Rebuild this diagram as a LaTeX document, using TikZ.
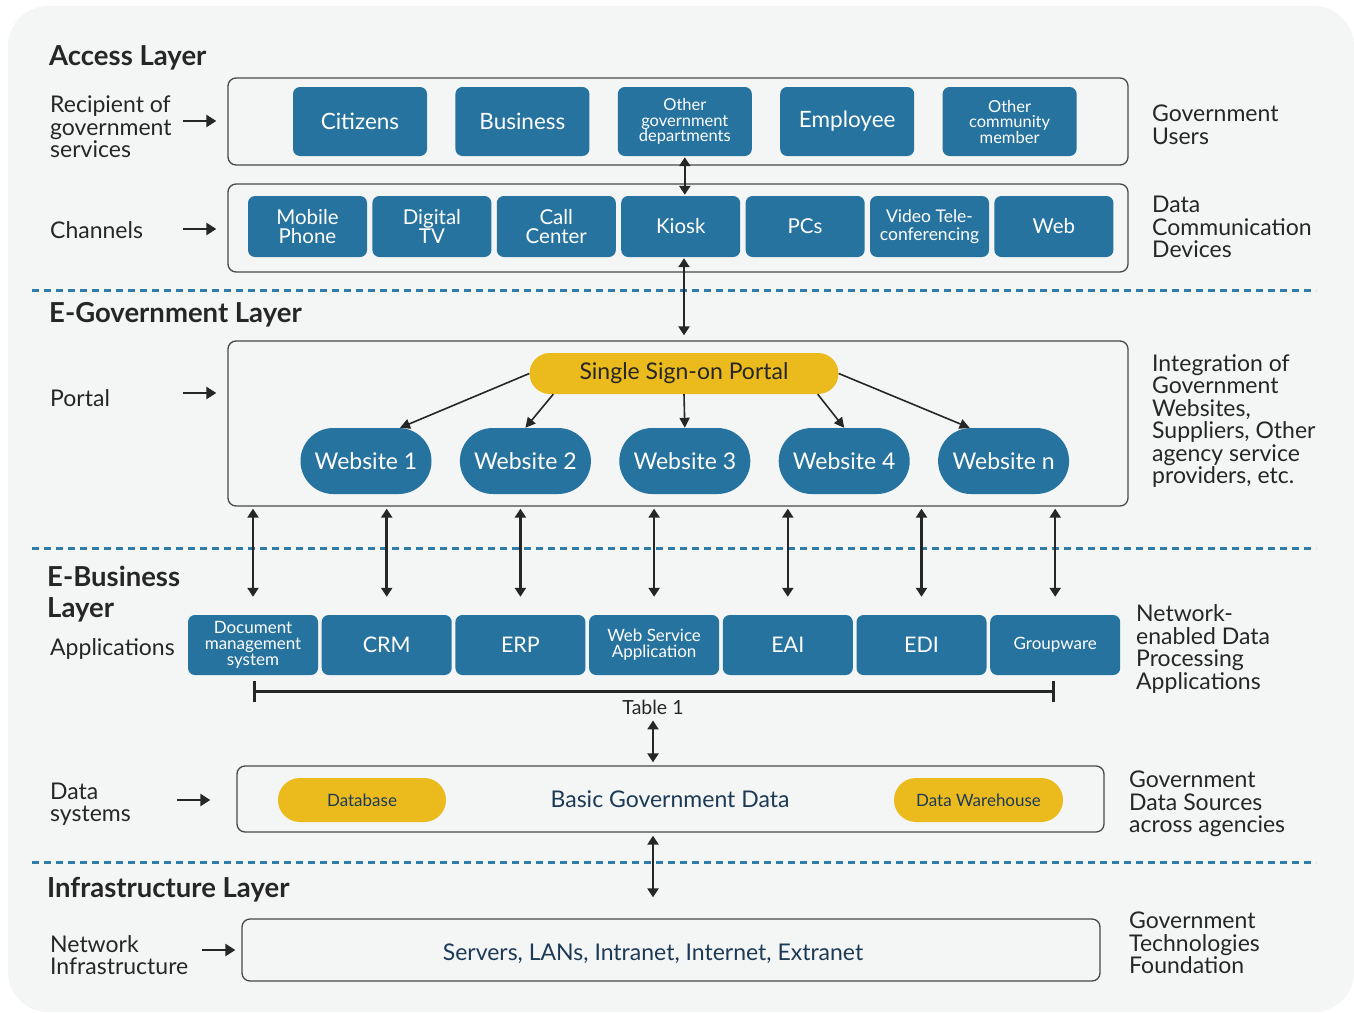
\documentclass[tikz,border=0pt]{standalone}
\usepackage{fontspec}
\setmainfont{Lato}
\usetikzlibrary{arrows.meta, positioning, calc}
\definecolor{appblue}{HTML}{26739F}
\definecolor{ssoyellow}{HTML}{EBBB1E}
\definecolor{dashblue}{HTML}{2F7CA9}
\definecolor{panelgray}{HTML}{F4F6F5}
\definecolor{inkdark}{HTML}{262626}
\definecolor{navytext}{HTML}{1C3A56}

\begin{document}
\begin{tikzpicture}[x=1pt, y=-1pt,
  every node/.style={font=\fontsize{23}{22.5}\selectfont, text=inkdark},
  layer/.style={draw=inkdark!85, line width=1.3pt, rounded corners=8pt, fill=panelgray, inner sep=0pt},
  userbox/.style={rectangle, rounded corners=7pt, fill=appblue, text=white, minimum width=134pt, minimum height=69pt, inner sep=0pt, align=center, font=\fontsize{22.5}{22.5}\selectfont},
  chanbox/.style={userbox, minimum width=119pt, minimum height=61pt, font=\fontsize{20.5}{19.5}\selectfont},
  website/.style={userbox, rounded corners=32.9pt, minimum width=131pt, minimum height=66pt, font=\fontsize{23}{23}\selectfont},
  appbox/.style={userbox, minimum width=130pt, minimum height=60pt, font=\fontsize{21.5}{21.5}\selectfont},
  small/.style={font=\fontsize{16.5}{15.5}\selectfont},
  smaller/.style={font=\fontsize{17}{16}\selectfont},
  pill/.style={rectangle, rounded corners=21.9pt, fill=ssoyellow, text=navytext, minimum height=44pt, inner sep=0pt, font=\fontsize{17}{17}\selectfont},
  title/.style={anchor=west, inner sep=0pt, align=left, font=\fontsize{27.5}{31}\selectfont\bfseries},
  sidelabel/.style={anchor=west, inner sep=0pt, align=left},
  arrow/.style={-{Triangle[length=10pt, width=12pt]}, line width=2.4pt, draw=inkdark},
  thinarrow/.style={-{Triangle[length=10pt, width=10pt]}, line width=1.6pt, draw=inkdark},
  dblarrow/.style={{Triangle[length=9pt, width=11pt]}-{Triangle[length=9pt, width=11pt]}, line width=2.5pt, draw=inkdark},
  bracket/.style={{Bar[width=21pt]}-{Bar[width=21pt]}, line width=2.8pt, draw=inkdark},
  sep/.style={dashblue, line width=3pt, dash pattern=on 7pt off 5pt}
]
  \useasboundingbox (0,0) rectangle (1354,1012);
  \fill[panelgray, rounded corners=40pt] (8,6) rectangle (1354,1012);

  % access layer
  \node[title] (acctitle) at (49,58) {Access Layer};
  \node[sidelabel] (recip) at (50,127) {Recipient of\\government\\services};
  \node[sidelabel] (gusers) at (1152,125) {Government\\Users};
  \node[layer, minimum width=900pt, minimum height=87pt] (access) at (678,121.5) {};
  \node[userbox] (citz) at (360,121.5) {Citizens};
  \node[userbox, right=28pt of citz] (bus) {Business};
  \node[userbox, small, right=28pt of bus] (othgov) {Other\\government\\departments};
  \node[userbox, right=28pt of othgov] (empl) {Employee};
  \node[userbox, small, right=28pt of empl] (othcom) {Other\\community\\member};

  \node[sidelabel] (chan) at (50,230) {Channels};
  \node[sidelabel] (devices) at (1152,227) {Data\\Communication\\Devices};
  \node[layer, minimum width=900pt, minimum height=88pt] (channel) at (678,228) {};
  \node[chanbox] (mobile) at (307.5,226.5) {Mobile\\Phone};
  \node[chanbox, right=5pt of mobile] (dtv) {Digital\\TV};
  \node[chanbox, right=5pt of dtv] (call) {Call\\Center};
  \node[chanbox, right=5pt of call] (kiosk) {Kiosk};
  \node[chanbox, right=5pt of kiosk] (pcs) {PCs};
  \node[chanbox, right=5pt of pcs, font=\fontsize{17.5}{17.5}\selectfont] (video) {Video Tele-\\conferencing};
  \node[chanbox, right=5pt of video] (web) {Web};

  % e-government layer
  \node[title] (egovtitle) at (49,315) {E-Government Layer};
  \node[sidelabel] (portlab) at (50,398) {Portal};
  \node[sidelabel] (integ) at (1152,421) {Integration of\\Government\\Websites,\\Suppliers, Other\\agency service\\providers, etc.};
  \node[layer, minimum width=900pt, minimum height=165pt] (portal) at (678,423.5) {};
  \node[pill, rounded corners=20.4pt, minimum width=309pt, minimum height=41pt, text=inkdark, font=\fontsize{23}{23}\selectfont] (sso) at (684,373.5) {Single Sign-on Portal};
  \node[website] (w1) at (366,461) {Website 1};
  \node[website, right=28pt of w1] (w2) {Website 2};
  \node[website, right=28pt of w2] (w3) {Website 3};
  \node[website, right=28pt of w3] (w4) {Website 4};
  \node[website, right=28pt of w4] (wn) {Website n};

  % e-business layer
  \node[title] (ebustitle) at (47,594) {E-Business\\Layer};
  \node[sidelabel] (applab) at (50,649) {Applications};
  \node[sidelabel] (netapps) at (1136,649) {Network-\\enabled Data\\Processing\\Applications};
  \node[appbox, smaller] (docms) at (253,645) {Document\\management\\system};
  \node[appbox, right=3.3pt of docms] (crm) {CRM};
  \node[appbox, right=3.3pt of crm] (erp) {ERP};
  \node[appbox, smaller, right=3.3pt of erp] (websvc) {Web Service\\Application};
  \node[appbox, right=3.3pt of websvc] (eai) {EAI};
  \node[appbox, right=3.3pt of eai] (edi) {EDI};
  \node[appbox, smaller, right=3.3pt of edi] (grpw) {Groupware};
  \node[font=\fontsize{19.5}{19.5}\selectfont, inner sep=0pt] (tbl) at (653,707) {Table 1};

  \node[sidelabel] (datalab) at (50,804) {Data\\systems};
  \node[sidelabel] (sources) at (1129,804) {Government\\Data Sources\\across agencies};
  \node[layer, minimum width=867pt, minimum height=66pt] (data) at (670.5,799) {};
  \node[pill, minimum width=168pt] (dbase) at (362,800) {Database};
  \node[text=navytext, font=\fontsize{23}{23}\selectfont] (basic) at (670,799) {Basic Government Data};
  \node[pill, minimum width=169pt] (dwh) at (978.5,800) {Data Warehouse};

  % infrastructure layer
  \node[title] (inftitle) at (47,890) {Infrastructure Layer};
  \node[sidelabel] (netlab) at (50,955) {Network\\Infrastructure};
  \node[sidelabel] (found) at (1129,943) {Government\\Technologies\\Foundation};
  \node[layer, minimum width=858pt, minimum height=62pt] (infra) at (671,950) {};
  \node[text=navytext, font=\fontsize{23}{23}\selectfont] (servers) at (653,954) {Servers, LANs, Intranet, Internet, Extranet};

  % separators
  \draw[sep] (32,290) -- (1316,290);
  \draw[sep] (32,548) -- (1316,548);
  \draw[sep] (32,862) -- (1316,862);

  % side arrows
  \coordinate (ra) at (183,121);
  \coordinate (ca) at (183,229);
  \coordinate (pa) at (183,393);
  \coordinate (da) at (177,800);
  \coordinate (na) at (202,950);
  \draw[arrow, shorten >=11pt] (ra) -- (access.west |- ra);
  \draw[arrow, shorten >=11pt] (ca) -- (channel.west |- ca);
  \draw[arrow, shorten >=11pt] (pa) -- (portal.west |- pa);
  \draw[arrow, shorten >=26pt] (da) -- (data.west |- da);
  \draw[arrow, shorten >=6pt] (na) -- (infra.west |- na);

  % connectors
  \draw[dblarrow, shorten <=1pt, shorten >=1pt] (othgov.south) -- (othgov.south |- kiosk.north);
  \draw[dblarrow, shorten <=1pt, shorten >=5pt] (kiosk.south -| sso) -- (portal.north -| sso);
  \draw[thinarrow] (sso.west) -- ([xshift=34pt]w1.north);
  \draw[thinarrow] ([xshift=24pt]sso.south west) -- (w2.north);
  \draw[thinarrow] (sso.south) -- (w3.north);
  \draw[thinarrow] ([xshift=-21pt]sso.south east) -- (w4.north);
  \draw[thinarrow] (sso.east) -- ([xshift=-34pt]wn.north);
  \foreach \a in {docms, crm, erp, websvc, eai, edi, grpw}
    \draw[dblarrow, shorten <=2pt, shorten >=18pt] (portal.south -| \a) -- (\a.north);
  \draw[bracket] ([yshift=-16pt]docms.south) -- ([yshift=-16pt]grpw.south);
  \draw[dblarrow, shorten <=6pt, shorten >=3pt] (tbl.south) -- (data.north -| tbl);
  \draw[dblarrow, shorten <=3pt, shorten >=21pt] (data.south -| tbl) -- (infra.north -| tbl);
\end{tikzpicture}
\end{document}
